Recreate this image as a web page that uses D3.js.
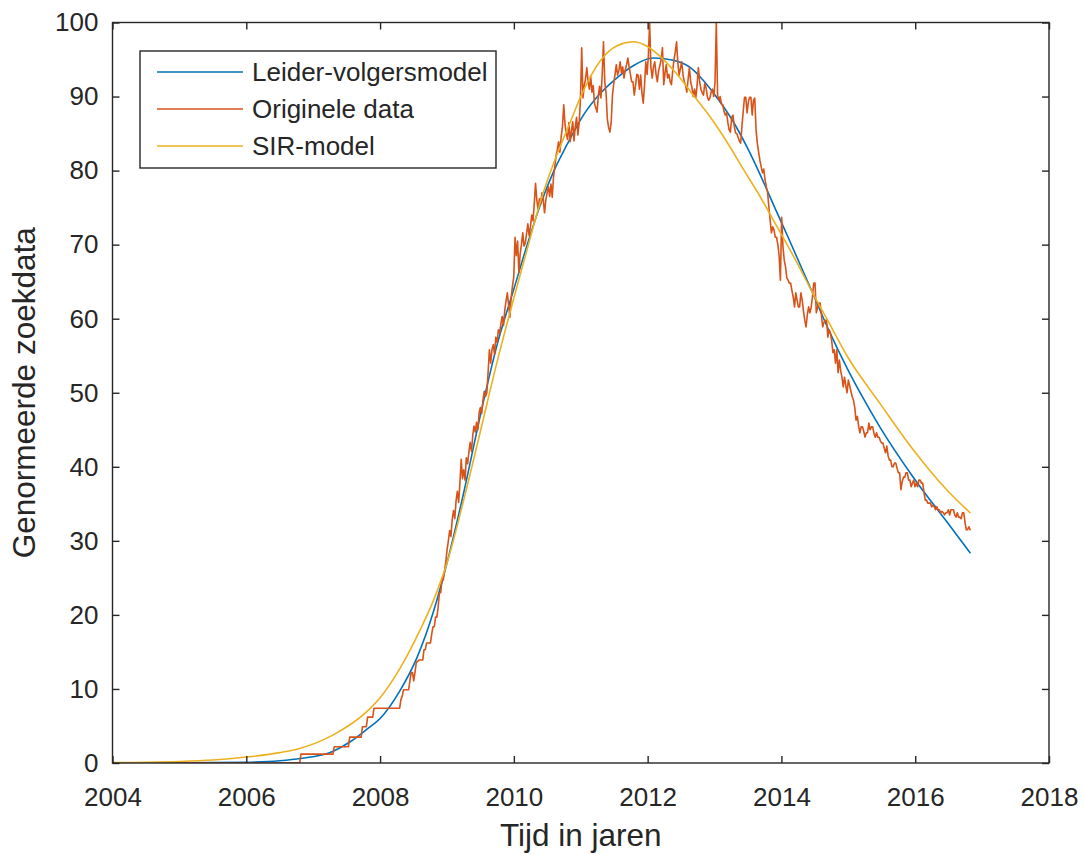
<!DOCTYPE html>
<html>
<head>
<meta charset="utf-8">
<script src="https://cdn.jsdelivr.net/npm/d3@7"></script>
<style>
  body { margin: 0; background: #ffffff; }
  text { font-family: "Liberation Sans", Arial, Helvetica, sans-serif; fill: #262626; }
</style>
</head>
<body>
<svg id="chart" width="1084" height="855"></svg>
<script>
// Axis ticks
const xTicks = [2004, 2006, 2008, 2010, 2012, 2014, 2016, 2018];
const yTicks = [0, 10, 20, 30, 40, 50, 60, 70, 80, 90, 100];

// Series names (legend order)
const reeksNamen = ["Leider-volgersmodel", "Originele data", "SIR-model"];

// Leader-follower model curve
const leiderJaar = [2004.0, 2005.0, 2006.0, 2006.5, 2006.81, 2007.3, 2007.56, 2007.81, 2008.0, 2008.3, 2008.55, 2008.8,
  2009.0, 2009.25, 2009.5, 2009.75, 2010.0, 2010.2, 2010.4, 2010.6, 2010.8, 2011.04, 2011.29, 2011.55, 2011.79,
  2012.08, 2012.38, 2012.64, 2012.83, 2013.04, 2013.28, 2013.49, 2013.68, 2013.9, 2014.1, 2014.46, 2014.7,
  2015.0, 2015.22, 2015.47, 2015.97, 2016.47, 2016.82];
const leiderWaarde = [0.0, 0.02, 0.1, 0.3, 0.6, 1.6, 2.9, 4.6, 6.0, 9.8, 14.2, 20.5,
  27.0, 36.5, 47.0, 56.5, 64.0, 70.0, 75.5, 80.0, 83.6, 87.5, 90.4, 92.6, 94.2,
  95.2, 94.9, 93.9, 92.2, 89.8, 86.6, 83.1, 79.5, 75.0, 71.0, 63.6, 58.6,
  53.0, 49.3, 45.4, 38.6, 32.6, 28.4];

// SIR model curve
const sirJaar = [2004.0, 2004.5, 2005.0, 2005.5, 2006.0, 2006.5, 2006.81, 2007.3, 2007.81, 2008.0, 2008.3, 2008.6,
  2008.8, 2009.0, 2009.25, 2009.5, 2009.75, 2010.0, 2010.2, 2010.39, 2010.65, 2010.8, 2011.04, 2011.29,
  2011.55, 2011.79, 2011.99, 2012.19, 2012.44, 2012.68, 2012.93, 2013.19, 2013.43, 2013.68, 2013.93,
  2014.23, 2014.46, 2014.75, 2014.98, 2015.47, 2015.97, 2016.47, 2016.82];
const sirWaarde = [0.05, 0.1, 0.2, 0.4, 0.8, 1.4, 2.0, 3.8, 7.0, 8.8, 12.8, 18.0,
  22.0, 27.0, 35.5, 44.8, 54.2, 62.8, 69.4, 75.6, 82.3, 85.6, 90.8, 94.8,
  96.9, 97.4, 96.8, 95.4, 93.0, 90.2, 87.3, 83.8, 80.2, 76.5, 72.5,
  67.6, 63.6, 58.8, 55.0, 48.6, 42.3, 36.9, 33.8];

// Weekly normalised search data, starting at the first week of 2004
const dataStartJaar = 2004;
const wekenPerJaar = 52.18;
const origineleData = [
  0,0,0,0,0,0,0, 0,0,0,0,0,0,0, 0,0,0,0,0,0,0,
  0,0,0,0,0,0,0, 0,0,0,0,0,0,0, 0,0,0,0,0,0,0,
  0,0,0,0,0,0,0, 0,0,0,0,0,0,0, 0,0,0,0,0,0,0,
  0,0,0,0,0,0,0, 0,0,0,0,0,0,0, 0,0,0,0,0,0,0,
  0,0,0,0,0,0,0, 0,0,0,0,0,0,0, 0,0,0,0,0,0,0,
  0,0,0,0,0,0,0, 0,0,0,0,0,0,0, 0,0,0,0,0,0,0,
  0,0,0,0,0,0,0, 0,0,0,0,0,0,0, 0,0,0,0,0,0,0,
  1.2,1.2,1.2,1.2,1.2,1.2,1.2,1.2,1.2,1.2,1.2,1.2,1.2,
  1.2,1.2,1.2,1.2,1.2,1.2,1.2,1.2,1.2,1.2,1.2,1.2,1.2,
  2.2,2.2,2.2,2.2,2.2,2.2, 2.2,2.2,2.2,2.2,2.2,2.2,
  3.5,3.5,3.5,3.5,3.5, 3.5,3.5,3.5,3.5,3.5,
  4.9,4.9,4.9,4.9,
  6.2,6.2,6.2,6.2,6.2,
  7.4,7.4,7.4,7.4,7.4,7.4,7.4, 7.4,7.4,7.4,7.4,7.4,7.4,7.4, 7.4,7.4,7.4,7.4,7.4,7.4,7.4,
  8.6, 9.0, 9.9, 9.9, 9.9, 9.9, 9.9, 11.1, 12.2, 12.2,
  11.1, 12.3, 13.6, 13.7, 13.9, 13.9, 13.9, 13.9, 15.3, 15.3,
  16.2, 16.2, 16.2, 16.2, 17.4, 18.4, 18.4, 19.7, 19.7, 21.0,
  23.0, 23.0, 24.7, 24.7, 25.9, 27.2, 28.8,
  30.0, 31.4, 30.6, 32.9, 34.1, 33.0, 35.4, 36.7, 35.2, 37.8,
  41.0, 38.4, 39.6, 38.2, 41.2, 40.4, 42.0, 43.3, 42.1, 44.2,
  45.5, 44.7, 46.0, 45.0, 47.3, 48.0, 47.2, 49.0, 50.2, 49.5,
  50.0, 52.8, 55.8, 54.0, 55.8, 56.5, 55.2, 57.5, 56.8, 58.5,
  58.0, 59.4, 60.3, 59.1, 61.2, 62.4, 63.5, 61.8, 60.2, 62.9,
  64.4, 65.6, 71.0, 68.5, 70.5, 66.2, 68.8, 70.0, 71.6, 69.8,
  70.2, 71.5, 72.8, 71.2, 72.4, 74.0, 73.2, 75.5, 78.3, 76.0,
  74.7, 76.2, 75.5, 77.0, 76.1, 74.3, 76.0, 77.0, 77.8, 76.5,
  78.2, 76.4, 79.1, 80.5, 82.0, 82.8,
  83.9, 82.5, 84.6, 86.0, 88.9, 86.2, 85.0, 84.2, 86.5, 83.9,
  85.4, 86.6, 84.0, 86.0, 87.2, 84.8, 86.4, 89.5, 96.6, 89.8,
  91.5, 92.4, 93.9, 92.0, 91.0, 92.8, 90.6, 91.5, 89.0, 88.5,
  87.9, 90.2, 91.4, 89.8, 93.0, 97.4, 92.0, 90.5, 87.0, 85.8,
  85.2, 86.5, 90.2, 91.8, 93.0, 94.3, 92.9, 93.5, 94.7, 93.2,
  94.0, 92.5, 93.6, 94.3, 95.2, 94.0, 93.0, 92.0, 92.0, 90.2,
  91.5, 93.0, 92.9, 91.0, 92.9, 90.5, 89.1, 91.5, 94.7, 93.0,
  95.5, 100, 93.9, 92.5, 94.0, 94.7, 93.0, 92.0, 93.5, 94.2,
  95.0, 96.6, 91.6, 93.2, 94.3, 92.5, 93.0, 92.0, 91.6, 93.5,
  95.0, 96.0, 97.4, 94.5, 92.9, 93.8, 94.7, 93.0, 92.0, 91.5,
  90.6, 92.3, 93.9, 92.0, 91.2, 90.0, 91.0, 89.8, 91.5, 93.9,
  92.0, 91.0, 90.5, 90.2, 91.8, 91.2, 90.0, 89.5, 89.8, 90.6,
  91.0, 90.0, 92.0, 100, 90.2, 89.5, 90.0, 89.0, 88.9, 88.0,
  87.5, 87.8, 86.5, 85.5, 85.2, 87.2, 87.5, 86.0, 85.1, 85.0,
  84.5, 84.0, 83.7, 86.0, 88.0, 89.9, 89.9, 87.8, 89.3, 89.9,
  89.9, 87.5, 89.5, 89.8, 85.5, 83.7, 82.5, 81.4, 80.5, 79.7,
  80.2, 78.8, 77.8, 77.1, 75.1, 73.3, 71.6, 72.4, 72.0, 71.0,
  71.0, 70.0, 68.5, 65.2, 73.7, 69.7, 67.9, 67.0, 65.5, 65.2,
  64.8, 64.8, 63.8, 62.9, 61.6, 63.5, 62.5, 61.6, 61.6, 63.5,
  62.5, 61.0, 59.8, 58.9, 60.5, 61.6, 60.8, 61.5, 63.0, 64.8,
  64.8, 60.8, 61.5, 62.1, 62.1, 60.5, 58.9, 59.5, 59.8, 59.8,
  57.5, 58.5, 58.1, 57.0, 55.4, 55.8, 54.0, 55.8, 52.7, 54.4,
  53.0, 52.1, 50.8, 52.1, 51.0, 50.0, 51.7, 51.0, 50.2, 49.5,
  49.0, 48.0, 46.3, 46.8, 45.5, 44.6, 45.4, 45.4, 44.8, 44.0,
  44.6, 44.6, 45.9, 45.0, 45.4, 45.4, 44.5, 44.0, 44.6, 44.0,
  44.0, 43.5, 43.2, 43.2, 42.5, 41.9, 42.8, 41.5, 40.9, 40.9,
  40.0, 40.0, 40.5, 40.5, 39.8, 39.2, 39.2, 36.9, 38.0, 38.6,
  38.6, 39.2, 39.2, 38.2, 38.2, 37.3, 37.8,
  38.2, 37.3, 37.8, 37.3, 38.2, 38.2, 37.8, 37.8, 36.5, 35.5,
  35.5, 35.1, 35.1, 35.1, 34.6, 34.8, 34.6, 34.2, 34.6, 34.2,
  34.2, 33.8, 34.0, 33.8, 33.5, 33.8, 33.8, 34.2, 33.5, 34.2,
  34.2, 34.2, 33.5, 33.2, 33.8, 33.2, 33.2, 33.0, 33.8, 33.8,
  32.5, 31.5, 31.5, 31.9, 31.5
];

const kleuren = ["#0072BD", "#D95319", "#EDB120"];
const asKleur = "#262626";

const svg = d3.select("#chart");
const plot = { left: 112.5, right: 1049, top: 22.5, bottom: 763 };

const x = d3.scaleLinear().domain([2004, 2018]).range([plot.left, plot.right]);
const y = d3.scaleLinear().domain([0, 100]).range([plot.bottom, plot.top]);

svg.append("defs").append("clipPath").attr("id", "plotClip")
  .append("rect")
  .attr("x", plot.left).attr("y", plot.top - 1)
  .attr("width", plot.right - plot.left).attr("height", plot.bottom - plot.top + 1);

const leiderPunten = leiderJaar.map((t, i) => [t, leiderWaarde[i]]);
const sirPunten = sirJaar.map((t, i) => [t, sirWaarde[i]]);
const dataPunten = origineleData.map((v, i) => [dataStartJaar + i / wekenPerJaar, v]);

const vloeiend = d3.line().x(d => x(d[0])).y(d => y(d[1])).curve(d3.curveMonotoneX);
const recht = d3.line().x(d => x(d[0])).y(d => y(d[1]));

const lijnen = svg.append("g").attr("clip-path", "url(#plotClip)")
  .attr("fill", "none").attr("stroke-width", 1.6)
  .attr("stroke-linejoin", "round").attr("stroke-linecap", "round");

lijnen.append("path").attr("d", vloeiend(leiderPunten)).attr("stroke", kleuren[0]);
lijnen.append("path").attr("d", recht(dataPunten)).attr("stroke", kleuren[1]);
lijnen.append("path").attr("d", vloeiend(sirPunten)).attr("stroke", kleuren[2]);

// Axes: inward ticks on all four sides, labels bottom and left
function stijl(g) {
  g.select(".domain").remove();
  g.selectAll(".tick line").attr("stroke", asKleur).attr("stroke-width", 1.4);
  g.selectAll(".tick text").attr("fill", asKleur).attr("font-size", 26);
}

svg.append("g").attr("transform", `translate(0,${plot.bottom})`)
  .call(d3.axisBottom(x).tickValues(xTicks).tickFormat(d3.format("d")).tickSize(-7).tickPadding(24.5))
  .call(stijl);
svg.append("g").attr("transform", `translate(0,${plot.top})`)
  .call(d3.axisTop(x).tickValues(xTicks).tickFormat("").tickSize(-7))
  .call(stijl);
svg.append("g").attr("transform", `translate(${plot.left},0)`)
  .call(d3.axisLeft(y).tickValues(yTicks).tickSize(-7).tickPadding(14))
  .call(stijl);
svg.append("g").attr("transform", `translate(${plot.right},0)`)
  .call(d3.axisRight(y).tickValues(yTicks).tickFormat("").tickSize(-7))
  .call(stijl);

svg.append("rect")
  .attr("x", plot.left).attr("y", plot.top)
  .attr("width", plot.right - plot.left).attr("height", plot.bottom - plot.top)
  .attr("fill", "none").attr("stroke", asKleur).attr("stroke-width", 1.4);

// Axis titles
svg.append("text")
  .attr("x", (plot.left + plot.right) / 2).attr("y", 846)
  .attr("text-anchor", "middle").attr("font-size", 31.5)
  .text("Tijd in jaren");
svg.append("text")
  .attr("transform", `translate(35,${(plot.top + plot.bottom) / 2}) rotate(-90)`)
  .attr("text-anchor", "middle").attr("font-size", 31.5)
  .text("Genormeerde zoekdata");

// Legend
const legenda = svg.append("g");
legenda.append("rect")
  .attr("x", 140).attr("y", 51).attr("width", 356).attr("height", 117)
  .attr("fill", "#ffffff").attr("stroke", asKleur).attr("stroke-width", 1.4);
const rijY = [72, 109, 146];
reeksNamen.forEach((naam, i) => {
  legenda.append("line")
    .attr("x1", 157).attr("x2", 243).attr("y1", rijY[i]).attr("y2", rijY[i])
    .attr("stroke", kleuren[i]).attr("stroke-width", 1.6);
  legenda.append("text")
    .attr("x", 252).attr("y", rijY[i]).attr("dy", "0.35em")
    .attr("font-size", 26).text(naam);
});
</script>
</body>
</html>
